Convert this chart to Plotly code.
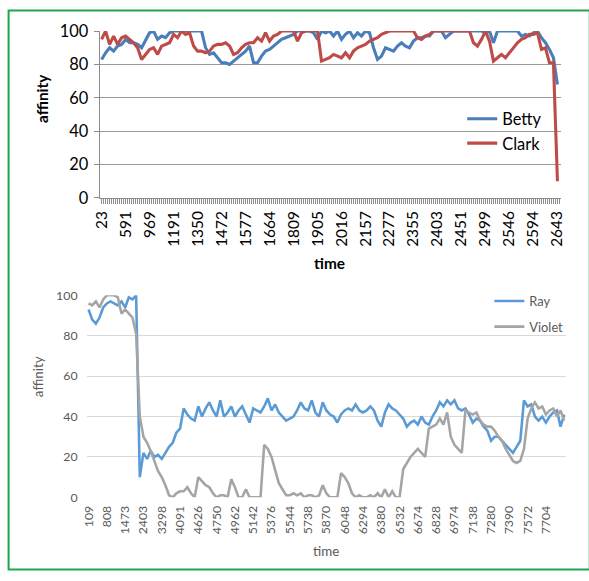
import plotly.graph_objects as go

# ---------------- data: top chart ----------------
top_time_labels = ["23", "591", "969", "1191", "1350", "1472", "1577", "1664", "1809", "1905",
                   "2016", "2157", "2277", "2355", "2403", "2451", "2499", "2546", "2594", "2643"]
betty = [83, 87, 90, 88, 91, 92, 95, 93, 93, 92, 90, 95, 99, 100, 95, 97, 96, 99, 100, 100,
         100, 100, 100, 100, 100, 100, 90, 86, 87, 84, 81, 81, 80, 82, 84, 86, 88, 91, 81, 81,
         85, 88, 89, 91, 93, 95, 96, 97, 98, 100, 100, 100, 100, 99, 95, 100, 99, 100, 97, 100,
         95, 98, 100, 96, 99, 97, 100, 99, 90, 83, 85, 90, 89, 88, 91, 93, 91, 90, 94, 96,
         96, 97, 97, 100, 100, 100, 96, 98, 100, 100, 100, 100, 100, 100, 100, 100, 99, 100, 93, 100,
         100, 100, 100, 100, 100, 97, 98, 97, 99, 100, 96, 93, 89, 84, 68]
clark = [95, 100, 92, 97, 92, 96, 97, 95, 93, 90, 83, 86, 89, 90, 86, 91, 92, 93, 98, 96,
         100, 98, 99, 91, 88, 88, 87, 88, 91, 92, 92, 93, 91, 86, 87, 90, 92, 93, 93, 96,
         94, 99, 94, 97, 98, 100, 100, 100, 100, 94, 99, 100, 100, 100, 100, 82, 83, 84, 86, 85,
         84, 87, 84, 88, 90, 91, 92, 94, 95, 96, 98, 99, 100, 100, 100, 100, 100, 100, 100, 96,
         95, 97, 98, 100, 100, 100, 100, 100, 100, 100, 100, 100, 100, 93, 91, 95, 100, 94, 82, 84,
         86, 84, 87, 90, 93, 95, 96, 98, 98, 99, 89, 90, 81, 81, 10]

# ---------------- data: bottom chart ----------------
bottom_time_labels = ["109", "808", "1473", "2403", "3298", "4091", "4626", "4750", "4962", "5142",
                      "5376", "5544", "5738", "5870", "6048", "6294", "6380", "6532", "6674", "6828",
                      "6974", "7138", "7280", "7390", "7572", "7704"]
ray = [93, 88, 86, 89, 94, 96, 97, 96, 95, 97, 94, 99, 98, 100, 10, 22, 19, 23, 20, 21,
       19, 22, 25, 27, 32, 34, 44, 41, 39, 38, 45, 40, 44, 47, 43, 40, 48, 40, 42, 45,
       40, 43, 45, 41, 37, 44, 43, 42, 45, 49, 43, 46, 42, 40, 38, 39, 40, 43, 47, 44,
       43, 48, 42, 40, 47, 43, 41, 40, 37, 41, 43, 44, 43, 46, 43, 42, 43, 45, 43, 38,
       35, 42, 46, 44, 43, 41, 39, 35, 37, 38, 36, 40, 37, 36, 40, 43, 47, 45, 48, 46,
       48, 44, 43, 44, 41, 37, 39, 38, 35, 33, 28, 30, 30, 28, 26, 24, 22, 25, 28, 48,
       45, 46, 40, 38, 40, 37, 40, 42, 43, 35, 41]
violet = [96, 95, 97, 94, 98, 100, 100, 100, 99, 91, 93, 91, 89, 81, 40, 30, 27, 23, 18, 13,
          10, 6, 1, 0, 2, 3, 3, 5, 2, 0, 10, 8, 6, 5, 2, 0, 1, 1, 0, 9,
          5, 0, 0, 4, 0, 0, 0, 0, 26, 24, 20, 14, 7, 4, 1, 1, 2, 1, 2, 0,
          1, 1, 0, 1, 6, 2, 0, 0, 0, 12, 10, 7, 2, 0, 1, 0, 0, 1, 0, 2,
          0, 4, 0, 3, 0, 0, 14, 17, 20, 22, 24, 22, 20, 34, 35, 36, 39, 36, 42, 30,
          26, 24, 22, 43, 42, 41, 42, 38, 36, 35, 35, 33, 30, 28, 24, 21, 18, 17, 18, 24,
          39, 44, 47, 44, 45, 41, 43, 44, 40, 43, 38]

TOP_STEP = 6      # one label every 6 categories (Excel category axis)
BOT_STEP = 5

FONT = "Lato"
W, H = 589, 581

# the page is shown with the default body margin and scaled to the window,
# so target screen positions are converted into figure pixels
OFF, SC = 7.8, 0.9736

def fx(r):
    return ((r - OFF) / SC) / W

def fy(r):
    return 1 - ((r - OFF) / SC) / H

def fs(s):
    return s / SC

fig = go.Figure()

xt = list(range(len(betty)))
fig.add_trace(go.Scatter(x=xt, y=betty, name="Betty", mode="lines",
                         line=dict(color="#4A7EBB", width=fs(3)), cliponaxis=False,
                         xaxis="x", yaxis="y", legend="legend"))
fig.add_trace(go.Scatter(x=xt, y=clark, name="Clark", mode="lines",
                         line=dict(color="#BE4B48", width=fs(3)), cliponaxis=False,
                         xaxis="x", yaxis="y", legend="legend"))

xb = list(range(len(ray)))
fig.add_trace(go.Scatter(x=xb, y=ray, name="Ray", mode="lines", legendgroup="r",
                         line=dict(color="#5B9BD5", width=fs(2.5)), cliponaxis=False,
                         xaxis="x2", yaxis="y2", legend="legend2"))
fig.add_trace(go.Scatter(x=xb, y=violet, name="Violet", mode="lines", legendgroup="v",
                         line=dict(color="#A5A5A5", width=fs(2.5)), cliponaxis=False,
                         xaxis="x2", yaxis="y2", legend="legend2"))

# tick arrays for the category axes
top_tickvals = [i * 0.5 for i in range(2 * len(betty))]
top_ticktext = []
for v in top_tickvals:
    if v == int(v) and int(v) % TOP_STEP == 0 and int(v) // TOP_STEP < len(top_time_labels):
        top_ticktext.append(top_time_labels[int(v) // TOP_STEP])
    else:
        top_ticktext.append("")
bot_tickvals = [i * BOT_STEP for i in range(len(bottom_time_labels))]

fig.update_layout(
    width=W, height=H,
    margin=dict(l=0, r=0, t=0, b=0),
    paper_bgcolor="white", plot_bgcolor="white",
    font=dict(family=FONT),
    xaxis=dict(domain=[fx(99), fx(558)], range=[-0.5, 114.8],
               tickmode="array", tickvals=top_tickvals, ticktext=top_ticktext,
               tickangle=-90, ticks="outside", ticklen=5, tickcolor="#8C8C8C", tickwidth=1,
               ticklabelstandoff=1,
               tickfont=dict(size=fs(15), color="#000000", family=FONT),
               showline=True, linecolor="#8C8C8C", linewidth=1, showgrid=False,
               zeroline=False, anchor="y"),
    yaxis=dict(domain=[fy(197), fy(29)], range=[0, 100],
               tickvals=[0, 20, 40, 60, 80, 100],
               ticks="outside", ticklen=5, tickcolor="#8C8C8C",
               ticklabelstandoff=2,
               tickfont=dict(size=fs(16), color="#000000", family=FONT),
               showline=True, linecolor="#8C8C8C", linewidth=1,
               showgrid=True, gridcolor="#9A9A9A", gridwidth=1,
               zeroline=False, anchor="x"),
    xaxis2=dict(domain=[fx(86), fx(563)], range=[-0.55, 130.4],
                tickmode="array", tickvals=bot_tickvals, ticktext=bottom_time_labels,
                tickangle=-90, ticks="", ticklen=0, ticklabelstandoff=5,
                tickfont=dict(size=fs(12), color="#595959", family=FONT),
                showline=False, showgrid=False, zeroline=False, anchor="y2"),
    yaxis2=dict(domain=[fy(498.3), fy(295)], range=[0, 100],
                tickvals=[0, 20, 40, 60, 80, 100], ticks="", ticklabelstandoff=8,
                tickfont=dict(size=fs(12), color="#595959", family=FONT),
                showline=False, showgrid=True, gridcolor="#D9D9D9", gridwidth=1,
                zeroline=False, anchor="x2"),
    legend=dict(x=fx(460), y=fy(100), xanchor="left", yanchor="top",
                bgcolor="rgba(0,0,0,0)", font=dict(size=fs(16), color="#000000", family=FONT),
                tracegroupgap=0),
    legend2=dict(x=fx(487), y=fy(285.7), xanchor="left", yanchor="top",
                 bgcolor="rgba(0,0,0,0)", font=dict(size=fs(12.5), color="#595959", family=FONT),
                 tracegroupgap=6),
    annotations=[
        dict(text="<b>affinity</b>", x=fx(41), y=fy(97), xref="paper", yref="paper",
             xanchor="center", yanchor="middle",
             textangle=-90, showarrow=False, font=dict(size=fs(15), color="#000000", family=FONT)),
        dict(text="<b>time</b>", x=fx(328), y=fy(262), xref="paper", yref="paper",
             xanchor="center", yanchor="middle",
             showarrow=False, font=dict(size=fs(15), color="#000000", family=FONT)),
        dict(text="affinity", x=fx(37), y=fy(377), xref="paper", yref="paper",
             xanchor="center", yanchor="middle",
             textangle=-90, showarrow=False, font=dict(size=fs(13), color="#595959", family=FONT)),
        dict(text="time", x=fx(324), y=fy(552), xref="paper", yref="paper",
             xanchor="center", yanchor="middle",
             showarrow=False, font=dict(size=fs(13), color="#595959", family=FONT)),
    ],
    shapes=[
        dict(type="rect", xref="paper", yref="paper",
             x0=0.6 / W, x1=1.01, y0=fy(571), y1=1 - 0.6 / H,
             line=dict(color="#1EA54F", width=2), fillcolor="rgba(0,0,0,0)", layer="below"),
    ],
)

fig.write_html("out.html",
               config={"displayModeBar": False, "responsive": False},
               post_script="document.body.style.margin='0';"
                           "document.body.style.padding='0';"
                           "document.body.style.overflow='hidden';"
                           "document.documentElement.style.overflow='hidden';")
